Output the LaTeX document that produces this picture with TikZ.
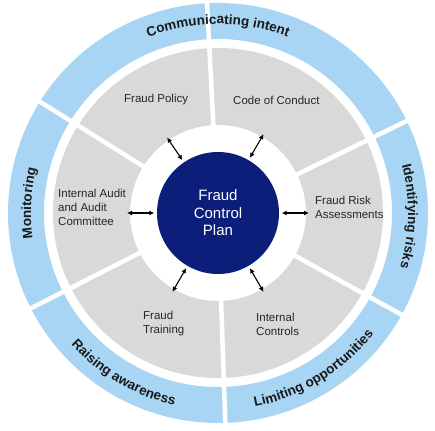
\documentclass[tikz,border=0pt]{standalone}
\usepackage{fontspec}
\setmainfont{Liberation Sans}
\usepackage{tikz}
\usetikzlibrary{decorations.text,arrows.meta}

\definecolor{ringblue}{HTML}{A9D5F5}
\definecolor{segray}{HTML}{D9D9D9}
\definecolor{plannavy}{HTML}{0B1F7A}

\tikzset{
  seglabel/.style={anchor=west, align=left, inner sep=0pt, text=black!85,
    font=\fontsize{11.5}{14}\selectfont},
  ringtext/.style={decorate, decoration={text along path, text align=center,
    text color=black!90, text={|\fontsize{13.5}{16}\selectfont\bfseries|#1}}},
  link/.style={{Latex[length=5pt,width=5pt]}-{Latex[length=5pt,width=5pt]}, line width=1.1pt, shorten <=2.5pt},
}

\begin{document}
\begin{tikzpicture}
    \useasboundingbox[fill=white] (-218pt,-217pt) rectangle (217pt,213pt); % same frame as the picture

    \fill[ringblue, even odd rule] (0,0) circle (210pt) (0,0) circle (174pt); % outer ring
    \fill[segray, even odd rule] (0,0) circle (165pt) (0,0) circle (88pt);    % inner ring
    \foreach \a in {26,93,148,207,272,331}{                 % white cuts between the segments
        \draw[white, line width=4.5pt] (\a:84pt) -- (\a:214pt);
    }

    % texts along the outer ring
    \path[ringtext=Communicating intent] (150:189pt) arc[start angle=150, end angle=30, radius=189pt];
    \path[ringtext=Identifying risks] (28:190pt) arc[start angle=28, end angle=-30, radius=190pt];
    \path[ringtext=Monitoring] (206:187pt) arc[start angle=206, end angle=148, radius=187pt];
    \path[ringtext=Raising awareness] (207:197pt) arc[start angle=207, end angle=272, radius=197pt];
    \path[ringtext=Limiting opportunities] (272:197pt) arc[start angle=272, end angle=331, radius=197pt];

    % segment labels
    \node[seglabel] (policy) at (-94pt,113pt) {Fraud Policy};
    \node[seglabel] (conduct) at (15pt,113pt) {Code of Conduct};
    \node[seglabel] (risk) at (97pt,6pt) {Fraud Risk\\Assessments};
    \node[seglabel] (controls) at (38pt,-111pt) {Internal\\Controls};
    \node[seglabel] (training) at (-75pt,-111pt) {Fraud\\Training};
    \node[seglabel] (audit) at (-160pt,6pt) {Internal Audit\\and Audit\\Committee};

    \node[circle, fill=plannavy, minimum size=122pt, inner sep=0pt, align=center, text=white,
          font=\fontsize{15}{17.5}\selectfont] (plan) at (0,0) {Fraud\\Control\\Plan};

    \foreach \a in {0,60,124,180,240,300}{                  % arrows from the plan to each segment
        \coordinate (tip\a) at (\a:91pt);
        \draw[link] (plan.\a) -- (tip\a);
    }
\end{tikzpicture}
\end{document}
